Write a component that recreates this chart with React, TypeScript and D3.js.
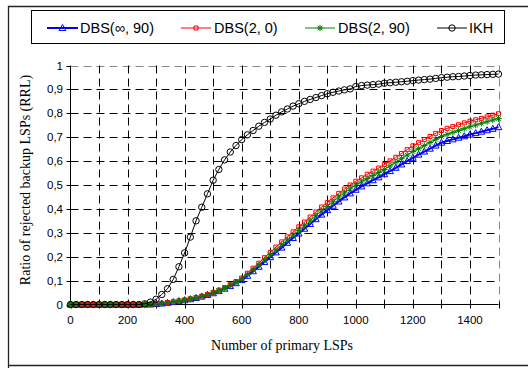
import React from "react";
import * as d3 from "d3";

// number of primary LSPs, sampled every 20
const primaryLsps = d3.range(0, 1520, 20);

const dbsInf90 = [
  0, 0, 0, 0, 0, 0, 0, 0, 0, 0, 0, 0, 0, 0, 0,
  0.002, 0.004, 0.007, 0.01, 0.014, 0.018, 0.022, 0.027, 0.033, 0.04,
  0.047, 0.056, 0.066, 0.077, 0.089, 0.102, 0.12, 0.139, 0.158, 0.178,
  0.198, 0.218, 0.238, 0.258, 0.278, 0.297, 0.317, 0.337, 0.357, 0.376,
  0.395, 0.413, 0.431, 0.448, 0.465, 0.48, 0.494, 0.507, 0.52, 0.532,
  0.545, 0.558, 0.572, 0.586, 0.6, 0.614, 0.627, 0.64, 0.652, 0.665,
  0.677, 0.684, 0.691, 0.698, 0.704, 0.711, 0.717, 0.723, 0.729, 0.735,
  0.742,
];

const dbs2_0 = [
  0, 0, 0, 0, 0, 0, 0, 0, 0, 0, 0, 0, 0, 0, 0,
  0.003, 0.005, 0.008, 0.011, 0.015, 0.019, 0.024, 0.029, 0.035, 0.042,
  0.05, 0.06, 0.071, 0.083, 0.096, 0.111, 0.131, 0.152, 0.173, 0.196,
  0.218, 0.24, 0.262, 0.283, 0.304, 0.325, 0.345, 0.366, 0.387, 0.408,
  0.426, 0.446, 0.465, 0.483, 0.5, 0.516, 0.53, 0.545, 0.558, 0.571,
  0.586, 0.601, 0.616, 0.632, 0.648, 0.664, 0.677, 0.69, 0.703, 0.716,
  0.728, 0.737, 0.745, 0.752, 0.76, 0.767, 0.773, 0.779, 0.785, 0.792,
  0.798,
];

const dbs2_90 = [
  0, 0, 0, 0, 0, 0, 0, 0, 0, 0, 0, 0, 0, 0, 0,
  0.003, 0.005, 0.008, 0.011, 0.015, 0.019, 0.023, 0.028, 0.034, 0.041,
  0.049, 0.058, 0.068, 0.08, 0.092, 0.106, 0.125, 0.145, 0.165, 0.187,
  0.208, 0.228, 0.25, 0.27, 0.29, 0.31, 0.33, 0.35, 0.372, 0.392,
  0.41, 0.43, 0.45, 0.467, 0.484, 0.5, 0.513, 0.527, 0.54, 0.552,
  0.565, 0.58, 0.595, 0.61, 0.625, 0.64, 0.652, 0.665, 0.678, 0.691,
  0.703, 0.712, 0.72, 0.728, 0.736, 0.744, 0.751, 0.758, 0.765, 0.772,
  0.778,
];

const ikh = [
  0, 0, 0, 0, 0, 0, 0, 0, 0, 0, 0, 0, 0, 0.003, 0.01,
  0.022, 0.042, 0.066, 0.105, 0.158, 0.216, 0.282, 0.35, 0.407, 0.463,
  0.52, 0.565, 0.605, 0.638, 0.665, 0.69, 0.71, 0.728, 0.746, 0.762,
  0.776, 0.792, 0.806, 0.818, 0.83, 0.84, 0.85, 0.858, 0.866, 0.874,
  0.882, 0.888, 0.893, 0.898, 0.902, 0.912, 0.916, 0.918, 0.92, 0.922,
  0.926, 0.928, 0.93, 0.932, 0.934, 0.937, 0.939, 0.941, 0.943, 0.946,
  0.949, 0.951, 0.953, 0.954, 0.956, 0.958, 0.96, 0.961, 0.962, 0.963,
  0.964,
];

const seriesNames = ["DBS(\u221e, 90)", "DBS(2, 0)", "DBS(2, 90)", "IKH"];
const xTicks = d3.range(0, 1600, 100);
const xLabels = [0, 200, 400, 600, 800, 1000, 1200, 1400];
const yTicks = d3.range(0, 11).map((i) => i / 10);

const series = [
  { name: seriesNames[0], values: dbsInf90, color: "#0000ff", width: 2, marker: "triangle" },
  { name: seriesNames[1], values: dbs2_0, color: "#ff0000", width: 1, marker: "square" },
  { name: seriesNames[2], values: dbs2_90, color: "#008000", width: 1, marker: "star" },
  { name: seriesNames[3], values: ikh, color: "#000000", width: 1, marker: "circle" },
];

const markerPath: Record<string, string> = {
  triangle: "M0,-3.5L3.3,2.5L-3.3,2.5Z",
  square: "M-2,-2L2,-2L2,2L-2,2Z",
  star: "M-3.2,0L3.2,0M0,-3.2L0,3.2M-2.3,-2.3L2.3,2.3M-2.3,2.3L2.3,-2.3",
  circle: "M3.2,0A3.2,3.2 0 1,1 -3.2,0A3.2,3.2 0 1,1 3.2,0Z",
};

const fmtY = (v: number) => (v === 0 ? "0" : v === 1 ? "1" : v.toFixed(1).replace(".", ","));

export default function App() {
  const x = d3.scaleLinear().domain([0, 1500]).range([70.5, 498.5]);
  const y = d3.scaleLinear().domain([0, 1]).range([304.5, 65.5]);

  const line = d3
    .line<number>()
    .x((_, i) => x(primaryLsps[i]))
    .y((d) => y(d));

  const legendItems = [
    { x1: 47, x2: 78, tx: 80 },
    { x1: 181, x2: 211, tx: 214 },
    { x1: 305, x2: 335, tx: 338 },
    { x1: 437, x2: 467, tx: 469 },
  ];

  return (
    <svg
      width={528}
      height={368}
      style={{ position: "absolute", left: 0, top: 0, background: "#fff" }}
    >
      <rect x={0} y={0} width={528} height={368} fill="#fff" />
      {/* outer frame */}
      <path d="M8.5,368V6.5H528M8.5,365.5H528" fill="none" stroke="#222" strokeWidth={1.3} />

      {/* grid */}
      <g stroke="#000" strokeWidth={1} strokeDasharray="8,5" fill="none">
        {yTicks.slice(1).map((t) => (
          <line key={"gy" + t} x1={x(0)} x2={x(1500)} y1={Math.round(y(t)) + 0.5} y2={Math.round(y(t)) + 0.5} stroke={t === 1 ? "#888" : "#000"} />
        ))}
        {xTicks.slice(1).map((t) => (
          <line key={"gx" + t} x1={Math.round(x(t)) + 0.5} x2={Math.round(x(t)) + 0.5} y1={y(1)} y2={y(0)} stroke={t === 1500 ? "#888" : "#000"} />
        ))}
      </g>

      {/* axes */}
      <g stroke="#000" strokeWidth={1}>
        <line x1={x(0)} x2={x(1500)} y1={y(0)} y2={y(0)} />
        <line x1={x(0)} x2={x(0)} y1={y(0)} y2={y(1)} />
        {xTicks.map((t) => (
          <line key={"tx" + t} x1={Math.round(x(t)) + 0.5} x2={Math.round(x(t)) + 0.5} y1={y(0) - 3} y2={y(0) + 4} />
        ))}
        {yTicks.map((t) => (
          <line key={"ty" + t} x1={x(0) - 4} x2={x(0)} y1={Math.round(y(t)) + 0.5} y2={Math.round(y(t)) + 0.5} />
        ))}
      </g>

      <g fontFamily="'Liberation Sans', Arial, sans-serif" fontSize={11.5} fill="#000">
        {xLabels.map((t) => (
          <text key={"lx" + t} x={x(t)} y={324} textAnchor="middle">{t}</text>
        ))}
        {yTicks.map((t) => (
          <text key={"ly" + t} x={63} y={y(t) + 4} textAnchor="end">{fmtY(t)}</text>
        ))}
      </g>

      <g fontFamily="'Liberation Serif', 'Times New Roman', serif" fontSize={14} fill="#000">
        <text x={282} y={350} textAnchor="middle">Number of primary LSPs</text>
        <text transform="translate(30,180) rotate(-90)" textAnchor="middle">Ratio of rejected backup LSPs (RRL)</text>
      </g>

      {/* series */}
      {series.map((s) => (
        <g key={s.name}>
          <path d={line(s.values) || ""} fill="none" stroke={s.color} strokeWidth={s.width} />
          {s.values.map((v, i) => (
            <path
              key={i}
              d={markerPath[s.marker]}
              transform={`translate(${x(primaryLsps[i])},${y(v)})`}
              fill="none"
              stroke={s.color}
              strokeWidth={1}
            />
          ))}
        </g>
      ))}

      {/* legend */}
      <rect x={31.5} y={10.5} width={473} height={33} fill="#fff" stroke="#000" strokeWidth={1} />
      <g fontFamily="'Liberation Sans', Arial, sans-serif" fontSize={14.5} fill="#000">
        {series.map((s, i) => {
          const it = legendItems[i];
          const cx = (it.x1 + it.x2) / 2;
          return (
            <g key={"lg" + s.name}>
              <line x1={it.x1} x2={it.x2} y1={28} y2={28} stroke={s.color} strokeWidth={s.width} />
              <path d={markerPath[s.marker]} transform={`translate(${cx},28)`} fill="none" stroke={s.color} strokeWidth={1} />
              <text x={it.tx} y={33}>{s.name}</text>
            </g>
          );
        })}
      </g>
    </svg>
  );
}
